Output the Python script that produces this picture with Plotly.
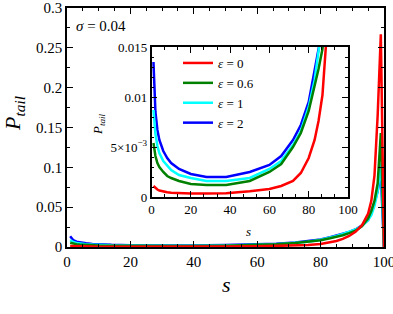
import plotly.graph_objects as go

W, H = 393, 314
FONT = "Liberation Serif"

# ---- data ----
s = [1, 2, 3, 4, 6, 8, 10, 14, 20, 28, 38, 50, 60, 66, 72, 76, 80, 83, 85, 87,
     89, 91, 93, 95, 96, 97, 98, 99, 100]

p_eps0 = [0.0011, 0.0009, 0.00075, 0.00065, 0.00055, 0.00048, 0.00043, 0.00038,
          0.00035, 0.00034, 0.00038, 0.00057, 0.0008, 0.0011, 0.0016, 0.0024,
          0.0039, 0.0057, 0.0076, 0.0102, 0.0138, 0.019, 0.027, 0.042, 0.058,
          0.09, 0.165, 0.267, 0.0]
p_eps06 = [0.0054, 0.0041, 0.0034, 0.003, 0.0025, 0.0021, 0.0019, 0.0016,
           0.0013, 0.0012, 0.0012, 0.0016, 0.0025, 0.0033, 0.005, 0.0064,
           0.0086, 0.011, 0.0128, 0.0148, 0.0175, 0.0205, 0.026, 0.036, 0.045,
           0.058, 0.08, 0.143, 0.0]
p_eps1 = [0.0087, 0.0063, 0.0051, 0.0044, 0.0036, 0.0031, 0.0027, 0.0022,
          0.0019, 0.0016, 0.0016, 0.0019, 0.0028, 0.0036, 0.0052, 0.0066,
          0.009, 0.0117, 0.014, 0.0163, 0.019, 0.022, 0.026, 0.034, 0.04,
          0.052, 0.07, 0.105, 0.0]
p_eps2 = [0.0135, 0.0085, 0.0067, 0.0057, 0.0046, 0.0039, 0.0034, 0.0028,
          0.0023, 0.002, 0.002, 0.0025, 0.0032, 0.0041, 0.0057, 0.0072,
          0.0095, 0.0123, 0.0145, 0.0165, 0.019, 0.022, 0.027, 0.034, 0.045,
          0.056, 0.07, 0.092, 0.0]

series = [  # drawn in this order (red on top); legend order via legendrank
    ("<i>ε</i> = 2", p_eps2, "#0000FF", 4),
    ("<i>ε</i> = 1", p_eps1, "#00FFFF", 3),
    ("<i>ε</i> = 0.6", p_eps06, "#008000", 2),
    ("<i>ε</i> = 0", p_eps0, "#FF0000", 1),
]

main_xticks = [0, 20, 40, 60, 80, 100]
main_yticks = [0, 0.05, 0.1, 0.15, 0.2, 0.25, 0.3]
inset_xticks = [0, 20, 40, 60, 80, 100]
inset_yticks = [0, 0.005, 0.01, 0.015]
inset_yticktext = ["0", "5×10<sup>−3</sup>", "0.01", "0.015"]


def px(x):
    return x / W


def py(y):
    return 1 - y / H


fig = go.Figure()
for name, vals, color, rank in series:
    fig.add_trace(go.Scatter(x=s, y=vals, mode="lines", xaxis="x", yaxis="y",
                             line=dict(color=color, width=2.5), showlegend=False))
for name, vals, color, rank in series:
    fig.add_trace(go.Scatter(x=s[:-1], y=vals[:-1], mode="lines", xaxis="x2",
                             yaxis="y2", name=name, legendrank=rank,
                             line=dict(color=color, width=2.5)))

axis_common = dict(showline=True, linecolor="black", linewidth=1.5,
                   mirror="ticks", ticks="inside", tickcolor="black",
                   showgrid=False, zeroline=False, automargin=False,
                   ticklabeloverflow="allow")


def ann(text, x, y, size, angle=0, family=FONT):
    return dict(text=text, x=px(x), y=py(y), xref="paper", yref="paper",
                xanchor="center", yanchor="middle", showarrow=False,
                textangle=angle, font=dict(size=size, family=family))


fig.update_layout(
    template="none",
    width=W, height=H,
    margin=dict(l=0, r=0, t=0, b=0, autoexpand=False),
    paper_bgcolor="white", plot_bgcolor="white",
    font=dict(family=FONT, color="black"),
    xaxis=dict(domain=[px(67), px(384)], range=[0, 100], anchor="y",
               tickvals=main_xticks, ticklen=6, tickwidth=1,
               tickfont=dict(size=15, family=FONT),
               minor=dict(dtick=5, ticks="inside", ticklen=3,
                          tickcolor="black"),
               **axis_common),
    yaxis=dict(domain=[py(247), py(8)], range=[0, 0.3], anchor="x",
               tickvals=main_yticks, ticklen=6, tickwidth=1,
               tickfont=dict(size=15, family=FONT),
               minor=dict(dtick=0.025, ticks="inside", ticklen=3,
                          tickcolor="black"),
               **axis_common),
    xaxis2=dict(domain=[px(151.5), px(348)], range=[0, 100], anchor="y2",
                tickvals=inset_xticks, ticklen=6, tickwidth=1,
                tickfont=dict(size=13, family=FONT),
                minor=dict(tick0=0, dtick=20 / 3, ticks="inside", ticklen=3,
                           tickcolor="black"),
                **axis_common),
    yaxis2=dict(domain=[py(197), py(47)], range=[0, 0.015], anchor="x2",
                tickvals=inset_yticks, ticktext=inset_yticktext, ticklen=6,
                tickwidth=1, tickfont=dict(size=13, family=FONT),
                minor=dict(dtick=0.001, ticks="inside", ticklen=3,
                           tickcolor="black"),
                **axis_common),
    legend=dict(x=px(178), y=py(48), xanchor="left", yanchor="top",
                bgcolor="rgba(0,0,0,0)", font=dict(size=13, family=FONT)),
    annotations=[
        ann("<i>P</i><sub><i>tail</i></sub>", 14, 114, 22, -90),
        ann("<i>s</i>", 226, 284, 22),
        ann("<i>σ</i> = 0.04", 101, 26, 15),
        ann("<i>P</i><sub><i>tail</i></sub>", 98, 124, 13, -90),
        ann("<i>s</i>", 249, 232, 13),
    ],
)

fig.write_html("out.html", config={"displayModeBar": False},
               post_script="document.body.style.margin='0';"
                           "document.body.style.overflow='hidden';")
